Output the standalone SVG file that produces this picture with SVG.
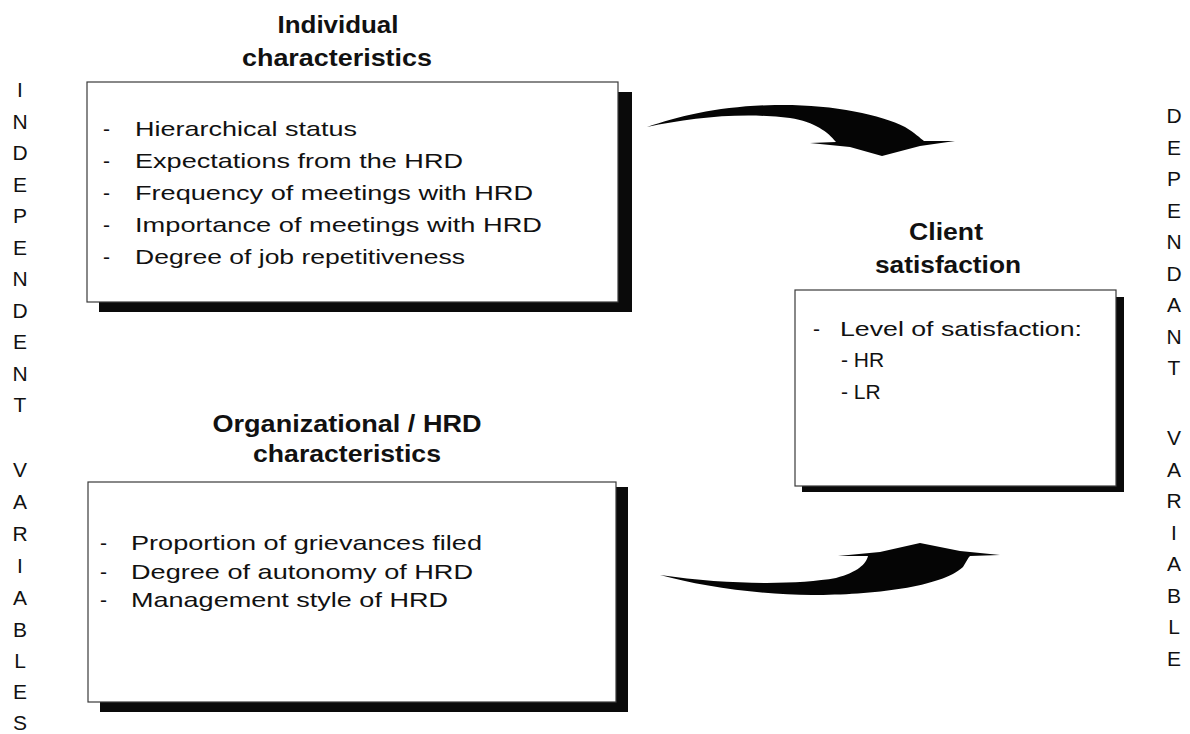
<svg xmlns="http://www.w3.org/2000/svg" width="1190" height="734" viewBox="0 0 1190 734">
<style>
.bg{fill:#ffffff}
.shadow{fill:#0a0a0a}
.box{fill:#ffffff;stroke:#3a3a3a;stroke-width:1.2}
.title{font-family:"Liberation Sans",Arial,sans-serif;font-weight:bold;font-size:23px;fill:#111;text-anchor:middle}
.item{font-family:"Liberation Sans",Arial,sans-serif;font-size:21px;fill:#111}
.side{font-family:"Liberation Sans",Arial,sans-serif;font-size:21px;fill:#111;text-anchor:middle}
.arrow{fill:#050505}
</style>
<rect class="bg" x="0" y="0" width="1190" height="734"/>

<g id="label-independent">
<text class="side" x="20" y="97">I</text>
<text class="side" x="20" y="128.5">N</text>
<text class="side" x="20" y="160">D</text>
<text class="side" x="20" y="191.5">E</text>
<text class="side" x="20" y="223">P</text>
<text class="side" x="20" y="254.5">E</text>
<text class="side" x="20" y="286">N</text>
<text class="side" x="20" y="317.5">D</text>
<text class="side" x="20" y="349">E</text>
<text class="side" x="20" y="380.5">N</text>
<text class="side" x="20" y="412">T</text>
<text class="side" x="20" y="477">V</text>
<text class="side" x="20" y="509">A</text>
<text class="side" x="20" y="541">R</text>
<text class="side" x="20" y="573">I</text>
<text class="side" x="20" y="605">A</text>
<text class="side" x="20" y="637">B</text>
<text class="side" x="20" y="668">L</text>
<text class="side" x="20" y="699">E</text>
<text class="side" x="20" y="730">S</text>
</g>

<g id="label-dependant">
<text class="side" x="1174" y="123">D</text>
<text class="side" x="1174" y="154.5">E</text>
<text class="side" x="1174" y="186">P</text>
<text class="side" x="1174" y="217.5">E</text>
<text class="side" x="1174" y="249">N</text>
<text class="side" x="1174" y="280.5">D</text>
<text class="side" x="1174" y="312">A</text>
<text class="side" x="1174" y="343.5">N</text>
<text class="side" x="1174" y="375">T</text>
<text class="side" x="1174" y="445">V</text>
<text class="side" x="1174" y="476.5">A</text>
<text class="side" x="1174" y="508">R</text>
<text class="side" x="1174" y="539.5">I</text>
<text class="side" x="1174" y="571">A</text>
<text class="side" x="1174" y="602.5">B</text>
<text class="side" x="1174" y="634">L</text>
<text class="side" x="1174" y="665.5">E</text>
</g>

<g id="individual">
<text class="title" x="338" y="33" textLength="121" lengthAdjust="spacingAndGlyphs">Individual</text>
<text class="title" x="337" y="66" textLength="190" lengthAdjust="spacingAndGlyphs">characteristics</text>
<rect class="shadow" x="99" y="92" width="533" height="220"/>
<rect class="box" x="87" y="82" width="531" height="220"/>
<text class="item" x="103" y="136">-</text>
<text class="item" x="135" y="136" textLength="222" lengthAdjust="spacingAndGlyphs">Hierarchical status</text>
<text class="item" x="103" y="168">-</text>
<text class="item" x="135" y="168" textLength="328" lengthAdjust="spacingAndGlyphs">Expectations from the HRD</text>
<text class="item" x="103" y="200">-</text>
<text class="item" x="135" y="200" textLength="398" lengthAdjust="spacingAndGlyphs">Frequency of meetings with HRD</text>
<text class="item" x="103" y="232">-</text>
<text class="item" x="135" y="232" textLength="407" lengthAdjust="spacingAndGlyphs">Importance of meetings with HRD</text>
<text class="item" x="103" y="264">-</text>
<text class="item" x="135" y="264" textLength="330" lengthAdjust="spacingAndGlyphs">Degree of job repetitiveness</text>
</g>

<g id="organizational">
<text class="title" x="347" y="432" textLength="269" lengthAdjust="spacingAndGlyphs">Organizational / HRD</text>
<text class="title" x="347" y="462" textLength="188" lengthAdjust="spacingAndGlyphs">characteristics</text>
<rect class="shadow" x="100" y="487" width="528" height="225"/>
<rect class="box" x="88" y="482" width="528" height="220"/>
<text class="item" x="100" y="550">-</text>
<text class="item" x="131" y="550" textLength="351" lengthAdjust="spacingAndGlyphs">Proportion of grievances filed</text>
<text class="item" x="100" y="579">-</text>
<text class="item" x="131" y="579" textLength="342" lengthAdjust="spacingAndGlyphs">Degree of autonomy of HRD</text>
<text class="item" x="100" y="607">-</text>
<text class="item" x="131" y="607" textLength="317" lengthAdjust="spacingAndGlyphs">Management style of HRD</text>
</g>

<g id="client">
<text class="title" x="946" y="240" textLength="74" lengthAdjust="spacingAndGlyphs">Client</text>
<text class="title" x="948" y="273" textLength="146" lengthAdjust="spacingAndGlyphs">satisfaction</text>
<rect class="shadow" x="802" y="297" width="322" height="195"/>
<rect class="box" x="795" y="290" width="321" height="196"/>
<text class="item" x="813" y="336">-</text>
<text class="item" x="840" y="336" textLength="242" lengthAdjust="spacingAndGlyphs">Level of satisfaction:</text>
<text class="item" x="841" y="367">- HR</text>
<text class="item" x="841" y="399">- LR</text>
</g>

<g id="connectors">
<path class="arrow" d="M647,127 C680,116 720,106 775,105 C830,104 880,114 905,127 C915,133 920,138 924,141 L955,141 L920,146 L882,156 L850,147 L810,143 L836,142 C828,132 815,122 790,118 C740,112 690,118 647,127 Z"/>
<path class="arrow" d="M660,575 C700,586 760,595 812,595 C872,595 942,587 963,567 C966,562 968,558 970,556 L1000,555 L960,551 L920,543 L880,552 L838,556 L868,556 C866,564 858,572 836,578 C796,585 728,585 660,575 Z"/>
</g>
</svg>
